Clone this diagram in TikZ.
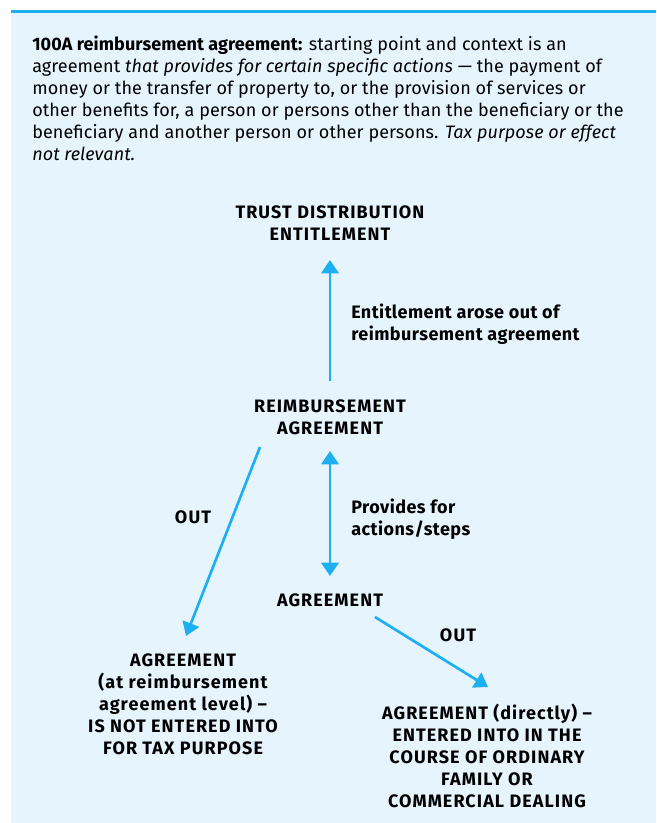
\documentclass[tikz,border=0pt]{standalone}
\usepackage{fontspec}
\setmainfont{Fira Sans}
\usetikzlibrary{arrows.meta}

\definecolor{panelblue}{HTML}{E6F5FD}
\definecolor{flowblue}{HTML}{1CB0F2}

\begin{document}
\begin{tikzpicture}[x=0.75pt, y=-0.75pt,
    flow/.style={draw=flowblue, line width=2pt, -{Triangle[width=13pt,length=10pt]}},
    twoway/.style={draw=flowblue, line width=2pt, {Triangle[width=13pt,length=10pt]}-{Triangle[width=13pt,length=10pt]}},
    stage/.style={font=\fontsize{13.5}{16.5}\selectfont\bfseries\addfontfeatures{LetterSpace=6}, align=center, inner sep=0pt},
    note/.style={font=\fontsize{13.5}{16.5}\selectfont\bfseries\addfontfeatures{LetterSpace=2.5}, align=left, anchor=west, inner sep=0pt}]

  \useasboundingbox (0,0) rectangle (656,823);

  % -- Panel --
  \fill[panelblue] (11,13) rectangle (656,823);
  \draw[flowblue, line width=2.25pt] (11,11.5) -- (656,11.5);

  % -- Definition text --
  \node[anchor=north west, align=left, inner sep=0pt,
        font=\fontsize{13.5}{16.5}\selectfont\addfontfeatures{LetterSpace=0.5}] (intro) at (32,36)
    {\textbf{100A reimbursement agreement:} starting point and context is an\\
     agreement \textit{that provides for certain specific actions} — the payment of\\
     money or the transfer of property to, or the provision of services or\\
     other benefits for, a person or persons other than the beneficiary or the\\
     beneficiary and another person or other persons. \textit{Tax purpose or effect}\\
     \textit{not relevant.}};

  % -- Stages --
  \node[stage] (trust) at (330,223) {TRUST DISTRIBUTION\\ENTITLEMENT};
  \node[stage] (reimb) at (330,417) {REIMBURSEMENT\\AGREEMENT};
  \node[stage] (agree) at (330,600) {AGREEMENT};
  \node[stage] (taxout) at (183,704)
    {AGREEMENT\\(at reimbursement\\agreement level) –\\IS NOT ENTERED INTO\\FOR TAX PURPOSE};
  \node[stage] (dealout) at (487,756)
    {AGREEMENT (directly) –\\ENTERED INTO IN THE\\COURSE OF ORDINARY\\FAMILY OR\\COMMERCIAL DEALING};

  % -- Arrow ends --
  \coordinate (upfrom) at (330,381);
  \coordinate (upto) at (330,260);
  \coordinate (midtop) at (330,451);
  \coordinate (midbot) at (330,576);
  \coordinate (leftfrom) at (260,447);
  \coordinate (leftto) at (186,636);
  \coordinate (rightfrom) at (375,617);
  \coordinate (rightto) at (488,687);

  % -- Connectors --
  \draw[flow] (upfrom) -- (upto);
  \draw[twoway] (midtop) -- (midbot);
  \draw[flow] (leftfrom) -- (leftto);
  \draw[flow] (rightfrom) -- (rightto);

  % -- Connector labels --
  \node[note] (arose) at (351,324) {Entitlement arose out of\\reimbursement agreement};
  \node[note] (provides) at (351,519) {Provides for\\actions/steps};
  \node[stage] (outleft) at (193,517) {OUT};
  \node[stage] (outright) at (458,635) {OUT};

\end{tikzpicture}
\end{document}
